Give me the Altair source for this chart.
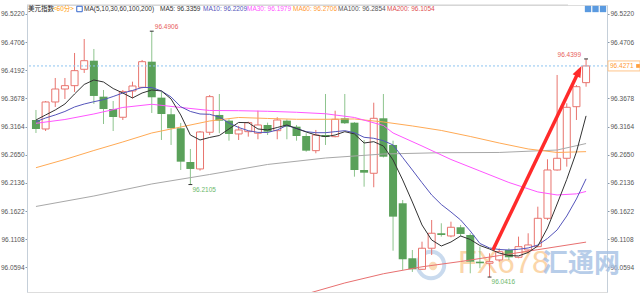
import altair as alt
import pandas as pd

# ---------------- data ----------------
opens = [96.3284, 96.3120, 96.3613, 96.3850, 96.3911, 96.4210, 96.4367, 96.3710, 96.3485, 96.3334,
         96.3814, 96.3881, 96.4349, 96.3692, 96.3389, 96.3133, 96.2517, 96.2390, 96.3060, 96.3376,
         96.3272, 96.3029, 96.3071, 96.3042, 96.3193, 96.3089, 96.3272, 96.3162, 96.2992, 96.2724,
         96.3010, 96.2980, 96.3315, 96.3235, 96.2371, 96.2311, 96.3315, 96.2828, 96.1763, 96.0759,
         96.0558, 96.0942, 96.1216, 96.1166, 96.1325, 96.1184, 96.0697, 96.0668, 96.0728, 96.0910,
         96.0777, 96.0910, 96.0971, 96.1489, 96.2371, 96.2585, 96.3527, 96.3966]
highs = [96.3467, 96.3631, 96.4051, 96.4051, 96.4508, 96.4763, 96.4581, 96.3832, 96.3631, 96.3832,
         96.3984, 96.4380, 96.4906, 96.3801, 96.3498, 96.3230, 96.2755, 96.3083, 96.3741, 96.3759,
         96.3297, 96.3175, 96.3253, 96.3454, 96.3235, 96.3334, 96.3297, 96.3193, 96.3042, 96.3102,
         96.3759, 96.3454, 96.3759, 96.3245, 96.2919, 96.3600, 96.3759, 96.2906, 96.1823, 96.0910,
         96.1062, 96.1458, 96.1398, 96.1427, 96.1367, 96.1215, 96.0971, 96.0850, 96.0941, 96.0941,
         96.1154, 96.1215, 96.1701, 96.2567, 96.4106, 96.3589, 96.3923, 96.4399]
lows = [96.3047, 96.3083, 96.3522, 96.3668, 96.3796, 96.4143, 96.3577, 96.3211, 96.3083, 96.3284,
        96.3681, 96.3863, 96.3412, 96.2919, 96.2828, 96.2371, 96.2105, 96.2359, 96.3010, 96.3042,
        96.2906, 96.2919, 96.2980, 96.2932, 96.3010, 96.2932, 96.2932, 96.2906, 96.2705, 96.2676,
        96.2828, 96.2968, 96.3211, 96.2249, 96.2066, 96.2056, 96.2600, 96.0897, 96.0545, 96.0509,
        96.0545, 96.0819, 96.1154, 96.1142, 96.1154, 96.0485, 96.0577, 96.0416, 96.0697, 96.0728,
        96.0759, 96.0850, 96.0960, 96.1458, 96.2360, 96.2432, 96.3284, 96.3892]
closes = [96.3120, 96.3613, 96.3850, 96.3911, 96.4185, 96.4367, 96.3723, 96.3485, 96.3339, 96.3801,
          96.3905, 96.4349, 96.3699, 96.3394, 96.3133, 96.2523, 96.2390, 96.3065, 96.3710, 96.3272,
          96.3029, 96.3102, 96.3235, 96.3193, 96.3071, 96.3284, 96.3162, 96.2992, 96.2724, 96.3010,
          96.2974, 96.3297, 96.3224, 96.2371, 96.2322, 96.3315, 96.2614, 96.1519, 96.0741, 96.0558,
          96.0942, 96.1216, 96.1184, 96.1325, 96.1203, 96.0697, 96.0668, 96.0697, 96.0880, 96.0777,
          96.0971, 96.1002, 96.1489, 96.2371, 96.2585, 96.3516, 96.3892, 96.4271]

ma5 = [96.3284, 96.3376, 96.3467, 96.3576, 96.3759, 96.3933, 96.4015, 96.3978, 96.3859, 96.3777,
       96.3686, 96.3777, 96.3832, 96.3814, 96.3668, 96.3376, 96.3010, 96.2919, 96.2965, 96.3001,
       96.3120, 96.3239, 96.3235, 96.3120, 96.3102, 96.3147, 96.3193, 96.3129, 96.3065, 96.3010,
       96.2979, 96.3010, 96.3071, 96.3029, 96.2864, 96.2888, 96.2809, 96.2554, 96.2189, 96.1787,
       96.1367, 96.1093, 96.0983, 96.1056, 96.1166, 96.1102, 96.0992, 96.0928, 96.0855, 96.0810,
       96.0801, 96.0865, 96.0983, 96.1312, 96.1750, 96.2200, 96.2700, 96.3359]
ma10 = [96.3253, 96.3321, 96.3376, 96.3440, 96.3522, 96.3576, 96.3618, 96.3655, 96.3713, 96.3777,
        96.3823, 96.3878, 96.3878, 96.3814, 96.3704, 96.3527, 96.3440, 96.3394, 96.3388, 96.3339,
        96.3229, 96.3147, 96.3089, 96.3058, 96.3056, 96.3102, 96.3184, 96.3129, 96.3071, 96.3052,
        96.3052, 96.3071, 96.3089, 96.3052, 96.2968, 96.2950, 96.2906, 96.2828, 96.2599, 96.2371,
        96.2139, 96.1915, 96.1741, 96.1604, 96.1458, 96.1257, 96.1029, 96.0947, 96.0919, 96.0910,
        96.0923, 96.0947, 96.1001, 96.1120, 96.1276, 96.1531, 96.1842, 96.2209]
ma30_idx = [0, 3, 6, 9, 12, 15, 18, 21, 24, 27, 30, 33, 36, 37, 40, 43, 46, 49, 52, 54, 56, 57]
ma30 = [96.3224, 96.3293, 96.3394, 96.3513, 96.3571, 96.3513, 96.3458, 96.3454, 96.3443, 96.3425,
        96.3398, 96.3330, 96.3184, 96.3047, 96.2809, 96.2563, 96.2353, 96.2143, 96.1970, 96.1915,
        96.1935, 96.1979]
ma60_idx = [0, 3, 6, 9, 12, 15, 18, 21, 24, 27, 30, 33, 36, 39, 42, 45, 48, 51, 54, 57]
ma60 = [96.2413, 96.2563, 96.2727, 96.2883, 96.3047, 96.3156, 96.3266, 96.3330, 96.3312, 96.3297,
        96.3297, 96.3303, 96.3248, 96.3175, 96.3093, 96.2983, 96.2864, 96.2755, 96.2691, 96.2706]
ma100_idx = [0, 6, 12, 18, 24, 30, 36, 42, 48, 54, 57]
ma100 = [96.1705, 96.1896, 96.2116, 96.2289, 96.2472, 96.2590, 96.2663, 96.2687, 96.2691, 96.2736,
         96.2854]
ma200_idx = [28, 32, 36, 40, 44, 48, 52, 57]
ma200 = [96.0107, 96.0308, 96.0476, 96.0603, 96.0700, 96.0808, 96.0916, 96.1054]

y_ticks = [96.5220, 96.4706, 96.4192, 96.3678, 96.3164, 96.2650, 96.2136, 96.1622, 96.1108, 96.0594]
y_ticks_right = [96.5220, 96.4706, 96.3678, 96.3164, 96.2650, 96.2136, 96.1622, 96.1108, 96.0594]

arrow_k = [47.35, 56.20]
arrow_v = [96.0910, 96.4155]

# ---------------- styles ----------------
W, H = 580, 287
RED = "#e8746e"
GREEN = "#5aa15a"
GREEN_WICK = "#8dc48d"
MA_COLORS = {"MA5": "#333333", "MA10": "#5555bb", "MA30": "#ff55ff",
             "MA60": "#ffaa55", "MA100": "#a8a8a8", "MA200": "#e87070"}
SANS = "Liberation Sans, Arial, sans-serif"
CJK = "Noto Sans CJK SC"
FS = 6.5

xs = alt.Scale(domain=[-0.41, 58.65], nice=False, zero=False)
ys = alt.Scale(domain=[96.0143, 96.5384], nice=False, zero=False)


def X(field):
    return alt.X(field, type="quantitative", scale=xs, axis=None)


def Y(field, axis=None):
    return alt.Y(field, type="quantitative", scale=ys, axis=axis)


n = len(closes)
df = pd.DataFrame({"k": list(range(n)), "open": opens, "high": highs,
                   "low": lows, "close": closes})

base = alt.Chart(df)

left_axis = alt.Axis(orient="left", values=y_ticks, format=".4f", title=None, grid=False,
                     labelFontSize=FS, labelFont=SANS, labelColor="#555555",
                     tickSize=2, tickColor="#8899aa", domainColor="#c5cfd9",
                     labelPadding=1)
right_axis = alt.Axis(orient="right", values=y_ticks_right, format=".4f", title=None,
                      grid=False, labelFontSize=FS, labelFont=SANS, labelColor="#555555",
                      tickSize=2, tickColor="#8899aa", domainColor="#c5cfd9",
                      labelPadding=1)

layers = []

# watermark
wm = alt.Chart(pd.DataFrame({"a": [0]}))
layers.append(wm.mark_point(shape="circle", filled=False, stroke="#bcd2ea", strokeWidth=4,
                            size=700, opacity=0.8).encode(x=alt.value(404), y=alt.value(260)))
layers.append(wm.mark_point(shape="circle", filled=True, fill="#f8d2a4", size=70,
                            opacity=0.8).encode(x=alt.value(406), y=alt.value(261)))
layers.append(wm.mark_text(text="FX678", align="left", baseline="middle", font=SANS,
                           fontSize=31, color="#fbcf9c", opacity=0.85)
              .encode(x=alt.value(431), y=alt.value(259)))
layers.append(wm.mark_text(text="汇通网", align="left", baseline="middle", font=CJK,
                           fontSize=26, fontWeight="bold", color="#a6c1e4", opacity=0.8)
              .encode(x=alt.value(515), y=alt.value(259)))

# wicks
layers.append(base.mark_rule(strokeWidth=1).encode(
    x=X("k"), y=Y("low", left_axis), y2="high",
    color=alt.condition("datum.close >= datum.open", alt.value(RED), alt.value(GREEN_WICK))))
# bodies
layers.append(base.transform_filter("datum.close >= datum.open")
              .mark_bar(size=7, fill="#ffffff", stroke=RED, strokeWidth=1)
              .encode(x=X("k"), y=Y("open"), y2="close"))
layers.append(base.transform_filter("datum.close < datum.open")
              .mark_bar(size=8, fill=GREEN, strokeWidth=0)
              .encode(x=X("k"), y=Y("open"), y2="close"))

# moving averages
ma_sets = [("MA200", ma200_idx, ma200), ("MA100", ma100_idx, ma100), ("MA60", ma60_idx, ma60),
           ("MA30", ma30_idx, ma30), ("MA10", list(range(n)), ma10), ("MA5", list(range(n)), ma5)]
for name, idx, vals in ma_sets:
    mdf = pd.DataFrame({"k": idx, "v": vals})
    layers.append(alt.Chart(mdf).mark_line(color=MA_COLORS[name], strokeWidth=1, clip=True)
                  .encode(x=X("k"), y=Y("v")))

# current price dotted line
last = closes[-1]
pdf = pd.DataFrame({"v": [last], "t": [f"{last:.4f}"]})
layers.append(alt.Chart(pdf).mark_rule(color="#8ec5f0", strokeDash=[2, 2], strokeWidth=1)
              .encode(y=Y("v")))

# extreme markers & labels
i_max = max(range(n), key=lambda i: highs[i])
i_min = min(range(n), key=lambda i: lows[i])
i_lmin = min(range(30), key=lambda i: lows[i])
i_rmax = max(range(40, n), key=lambda i: highs[i])
ext = pd.DataFrame({
    "k": [i_max, i_lmin, i_min, i_rmax],
    "v": [highs[i_max], lows[i_lmin], lows[i_min], highs[i_rmax]],
    "kind": ["high", "low", "low", "high"],
})
ext["k0"] = ext["k"] - 0.2
ext["k1"] = ext["k"] + 0.2
ext["t"] = ext["v"].map(lambda v: f"{v:.4f}")
ec = alt.Chart(ext)
layers.append(ec.mark_rule(color="#333333", strokeWidth=1).encode(x=X("k0"), x2="k1", y=Y("v")))
layers.append(ec.transform_filter(f"datum.k < {n - 1} && datum.kind == 'high'")
              .mark_text(align="left", baseline="middle", dx=3, dy=-4, fontSize=FS,
                         font=SANS, color="#e8605a")
              .encode(x=X("k"), y=Y("v"), text="t"))
layers.append(ec.transform_filter("datum.kind == 'low'")
              .mark_text(align="left", baseline="middle", dx=2, dy=5, fontSize=FS,
                         font=SANS, color="#6cb86c")
              .encode(x=X("k"), y=Y("v"), text="t"))
layers.append(ec.transform_filter(f"datum.k == {n - 1}")
              .mark_text(align="right", baseline="middle", dx=-5, dy=-4, fontSize=FS,
                         font=SANS, color="#e8605a")
              .encode(x=X("k"), y=Y("v"), text="t"))

# red arrow
adf = pd.DataFrame({"k": arrow_k, "v": arrow_v})
layers.append(alt.Chart(adf).mark_line(color="#ff2a2a", strokeWidth=3.5)
              .encode(x=X("k"), y=Y("v")))
layers.append(alt.Chart(adf.tail(1)).mark_point(shape="M0,-1L0.62,0.6L-0.62,0.6Z", size=196,
                                                filled=True, color="#ff2a2a", opacity=1,
                                                angle=26)
              .encode(x=X("k"), y=Y("v")))

# price box on the right axis
layers.append(alt.Chart(pdf).mark_point(shape="M-1,-0.3125L1,-0.3125L1,0.3125L-1,0.3125Z",
                                        size=1024, filled=True, fill="#ffffff",
                                        stroke="#ffc58a", strokeWidth=1, opacity=1)
              .encode(x=alt.value(W + 17), y=Y("v", right_axis)))
layers.append(alt.Chart(pdf).mark_text(align="left", baseline="middle", fontSize=FS,
                                       font=SANS, color="#ff9933")
              .encode(x=alt.value(W + 3), y=Y("v"), text="t"))
layers.append(alt.Chart(pdf).mark_point(shape="square", filled=True, color="#ffa040",
                                        size=14, opacity=1)
              .encode(x=alt.value(W + 31), y=Y("v")))

# header
hd = alt.Chart(pd.DataFrame({"a": [0]}))
layers.append(hd.mark_rule(color="#d0d0d0", strokeWidth=1)
              .encode(x=alt.value(0), x2=alt.value(541), y=alt.value(0)))
header = [
    ("美元指数", 1, "#222222", CJK),
    ("<60分>", 26, "#ff9900", CJK),
    ("MA(5,10,30,60,100,200)", 57, "#333333", SANS),
    (f"MA5: {ma5[-1]:.4f}", 133, MA_COLORS["MA5"], SANS),
    (f"MA10: {ma10[-1]:.4f}", 176, MA_COLORS["MA10"], SANS),
    (f"MA30: {ma30[-1]:.4f}", 220, MA_COLORS["MA30"], SANS),
    (f"MA60: {ma60[-1]:.4f}", 266, "#ff9933", SANS),
    (f"MA100: {ma100[-1]:.4f}", 311, "#555555", SANS),
    (f"MA200: {ma200[-1]:.4f}", 360, "#e05050", SANS),
]
for txt, px, col, fnt in header:
    layers.append(hd.mark_text(text=txt, align="left", baseline="middle", font=fnt,
                               fontSize=FS, color=col)
                  .encode(x=alt.value(px), y=alt.value(4)))
layers.append(hd.mark_point(shape="square", filled=False, stroke="#3366cc", strokeWidth=1,
                            size=30, opacity=1).encode(x=alt.value(52.5), y=alt.value(4)))
for px in (561, 568.5, 576):
    layers.append(hd.mark_point(shape="square", filled=True, color="#5a9ae0", size=40,
                                opacity=1).encode(x=alt.value(px), y=alt.value(4)))

chart = (alt.layer(*layers)
         .resolve_axis(y="independent")
         .properties(width=W, height=H,
                     autosize=alt.AutoSizeParams(type="none"),
                     padding={"left": 27, "top": 5, "right": 33, "bottom": 8})
         .configure_view(stroke=None)
         .configure(background="#ffffff"))

chart.save("out.html", embed_options={"renderer": "svg", "actions": False})
